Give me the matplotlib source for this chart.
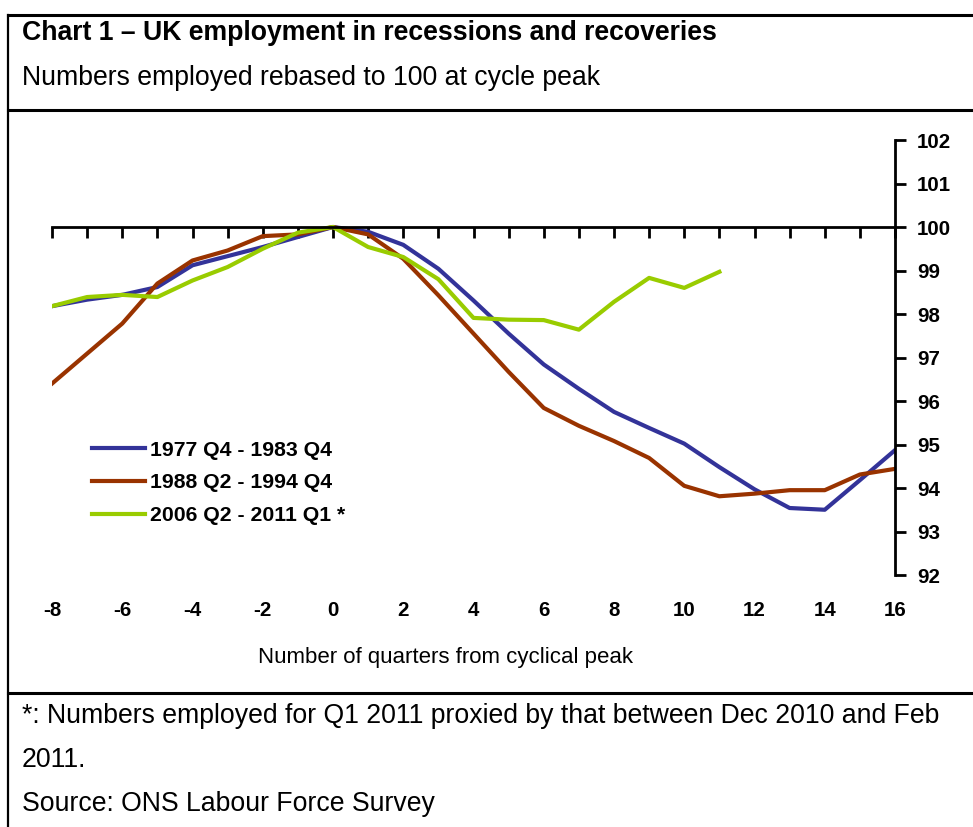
import matplotlib
matplotlib.use("Agg")
import matplotlib.pyplot as plt
from matplotlib.ticker import MultipleLocator
from matplotlib.lines import Line2D

plt.rcParams['font.family'] = ['Liberation Sans', 'DejaVu Sans']
plt.rcParams['axes.unicode_minus'] = False

# Quarters from cyclical peak
quarters = list(range(-8, 17))
quarters_2006 = list(range(-8, 12))

# Employment rebased to 100 at cycle peak
emp_1977 = [98.18, 98.33, 98.44, 98.62, 99.12, 99.33, 99.54, 99.77, 100.0,
            99.89, 99.59, 99.04, 98.31, 97.55, 96.84, 96.28, 95.75,
            95.38, 95.02, 94.48, 93.97, 93.54, 93.50, 94.18, 94.87]
emp_1988 = [96.40, 97.09, 97.78, 98.70, 99.23, 99.46, 99.79, 99.83, 100.0,
            99.83, 99.27, 98.43, 97.55, 96.67, 95.84, 95.43, 95.08,
            94.69, 94.05, 93.81, 93.87, 93.95, 93.95, 94.31, 94.44]
emp_2006 = [98.18, 98.39, 98.44, 98.39, 98.77, 99.08, 99.50, 99.87, 100.0,
            99.54, 99.31, 98.80, 97.91, 97.87, 97.86, 97.64, 98.28,
            98.83, 98.60, 98.97]

labels = ['1977 Q4 - 1983 Q4', '1988 Q2 - 1994 Q4', '2006 Q2 - 2011 Q1 *']
colors = ['#333399', '#993300', '#99CC00']

W, H = 973, 827
fig = plt.figure(figsize=(W / 100, H / 100), dpi=100)

# box lines around the exhibit
def hline(ypx):
    fig.add_artist(Line2D([8 / W, 1], [1 - ypx / H, 1 - ypx / H], color='black', lw=2.2))

hline(15)
hline(110)
hline(693)
fig.add_artist(Line2D([8 / W, 8 / W], [1 - 15 / H, 0], color='black', lw=1.6))

fig.text(22 / W, 1 - 33 / H, 'Chart 1 \u2013 UK employment in recessions and recoveries',
         fontsize=19.2, fontweight='bold', va='center', ha='left')
fig.text(22 / W, 1 - 78 / H, 'Numbers employed rebased to 100 at cycle peak',
         fontsize=19.2, va='center', ha='left')

ax = fig.add_axes([52 / W, 1 - 575 / H, 843 / W, 435 / H])
ax.plot(quarters, emp_1977, color=colors[0], lw=3, label=labels[0])
ax.plot(quarters, emp_1988, color=colors[1], lw=3, label=labels[1])
ax.plot(quarters_2006, emp_2006, color=colors[2], lw=3, label=labels[2])

ax.set_xlim(-8, 16)
ax.set_ylim(92, 102)

ax.spines['left'].set_visible(False)
ax.spines['bottom'].set_visible(False)
ax.spines['top'].set_position(('data', 100))
ax.spines['top'].set_linewidth(2)
ax.spines['right'].set_linewidth(2)

ax.xaxis.set_major_locator(MultipleLocator(2))
ax.xaxis.set_minor_locator(MultipleLocator(1))
ax.tick_params(axis='x', which='both', bottom=False, top=True, labelbottom=True,
               labeltop=False, direction='in', length=8, width=2, pad=19,
               labelsize=14.8)
ax.yaxis.tick_right()
ax.yaxis.set_major_locator(MultipleLocator(1))
ax.tick_params(axis='y', which='major', direction='out', length=8, width=2,
               pad=8, labelsize=14.8)
for lab in ax.get_xticklabels() + ax.get_yticklabels():
    lab.set_fontweight('bold')

fig.text(446 / W, 1 - 657 / H, 'Number of quarters from cyclical peak',
         fontsize=16, ha='center', va='center')

ax.legend(loc='upper left', bbox_to_anchor=(0.047, 0.309), frameon=False,
          prop={'weight': 'bold', 'size': 15.3}, handlelength=2.5,
          handletextpad=0.25, labelspacing=0.65, borderaxespad=0,
          borderpad=0)

fig.text(22 / W, 1 - 716 / H,
         '*: Numbers employed for Q1 2011 proxied by that between Dec 2010 and Feb',
         fontsize=19.2, va='center', ha='left')
fig.text(22 / W, 1 - 760 / H, '2011.', fontsize=19.2, va='center', ha='left')
fig.text(22 / W, 1 - 804 / H, 'Source: ONS Labour Force Survey',
         fontsize=19.2, va='center', ha='left')

fig.savefig('out.png', dpi=100)
